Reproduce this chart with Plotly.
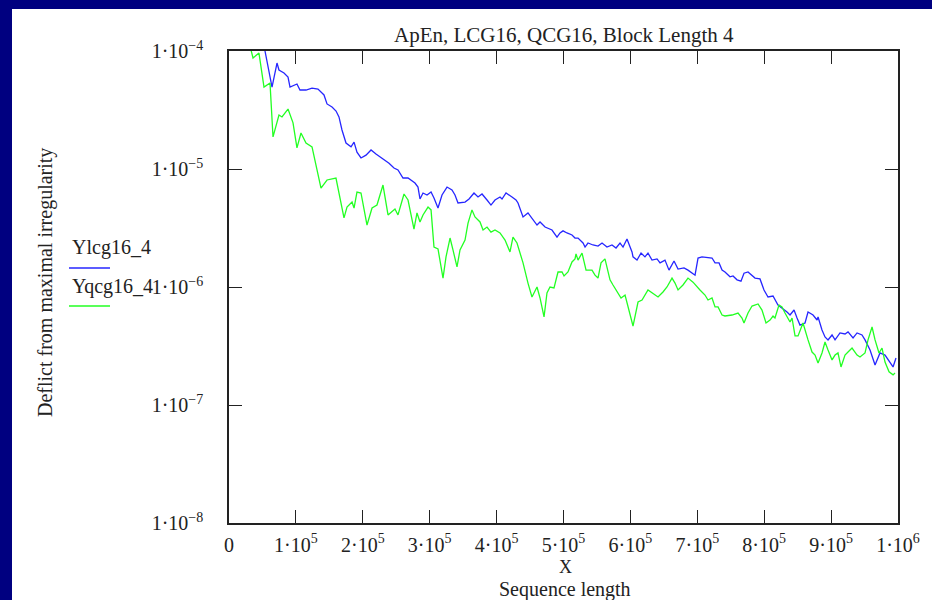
import plotly.graph_objects as go

title_text = "ApEn, LCG16, QCG16, Block Length 4"
series_names = ["Ylcg16_4", "Yqcg16_4"]
x_tick_vals = [0, 1e5, 2e5, 3e5, 4e5, 5e5, 6e5, 7e5, 8e5, 9e5, 1e6]
x_tick_text = ["0", "1·10<sup>5</sup>", "2·10<sup>5</sup>", "3·10<sup>5</sup>", "4·10<sup>5</sup>",
               "5·10<sup>5</sup>", "6·10<sup>5</sup>", "7·10<sup>5</sup>", "8·10<sup>5</sup>",
               "9·10<sup>5</sup>", "1·10<sup>6</sup>"]
y_tick_vals = [1e-8, 1e-7, 1e-6, 1e-5, 1e-4]
y_tick_text = ["1·10<sup>−8</sup>", "1·10<sup>−7</sup>", "1·10<sup>−6</sup>", "1·10<sup>−5</sup>", "1·10<sup>−4</sup>"]

lcg_x = [39000, 53800, 64300, 71750, 74700, 82200, 88200, 91200, 101600, 106100, 115100, 124100,
         133000, 142000, 146500, 154000, 160000, 164400, 168900, 174900, 182400, 186900, 191300,
         197300, 204800, 212300, 219700, 228700, 239200, 246600, 252600, 260100, 267600, 278000,
         282500, 285500, 290000, 296000, 302000, 306400, 312400, 318400, 325900, 333300, 337800,
         342300, 352800, 358800, 366200, 372200, 378200, 385700, 391600, 397600, 405100, 408100,
         414100, 423000, 429000, 432000, 439500, 446900, 452900, 460400, 464900, 472400, 482800,
         490300, 494800, 499300, 505200, 512700, 517200, 521700, 529200, 532200, 536600, 544100,
         551600, 557600, 565000, 572500, 578500, 584500, 589000, 594900, 602400, 603900, 609900,
         615900, 621800, 626300, 632300, 639800, 644300, 651700, 657700, 665200, 671200, 680100,
         686100, 696600, 701100, 707000, 722000, 726500, 732500, 737000, 741400, 748900, 753400,
         759400, 765300, 769800, 775800, 786300, 793700, 799700, 805700, 813200, 820600, 826600,
         834100, 838600, 844600, 849100, 853500, 861000, 865500, 873000, 879000, 880500, 886400,
         890900, 895400, 901400, 905900, 913300, 920800, 925300, 932800, 938800, 946200, 950700,
         958200, 965700, 973100, 980600, 988100, 992600, 997000]
lcg_y = [1.5e-4, 1.0e-4, 4.95e-5, 7.91e-5, 6.90e-5, 6.52e-5, 6.02e-5, 4.95e-5, 5.25e-5, 4.67e-5,
         4.67e-5, 4.85e-5, 4.76e-5, 4.24e-5, 3.56e-5, 3.35e-5, 3.10e-5, 2.76e-5, 2.14e-5, 1.66e-5,
         1.54e-5, 1.69e-5, 1.39e-5, 1.24e-5, 1.31e-5, 1.45e-5, 1.34e-5, 1.24e-5, 1.12e-5, 1.02e-5,
         9.81e-6, 8.39e-6, 8.39e-6, 7.61e-6, 7.03e-6, 5.57e-6, 6.26e-6, 6.02e-6, 6.38e-6, 5.68e-6,
         4.67e-6, 6.02e-6, 7.03e-6, 6.64e-6, 6.02e-6, 5.15e-6, 5.25e-6, 5.57e-6, 6.26e-6, 5.79e-6,
         6.14e-6, 5.46e-6, 4.95e-6, 5.46e-6, 5.79e-6, 5.57e-6, 6.26e-6, 5.79e-6, 5.46e-6, 5.15e-6,
         3.92e-6, 4.24e-6, 3.85e-6, 3.35e-6, 3.56e-6, 3.22e-6, 3.04e-6, 2.65e-6, 2.87e-6, 2.99e-6,
         2.87e-6, 2.76e-6, 2.60e-6, 2.60e-6, 2.36e-6, 2.18e-6, 2.36e-6, 2.27e-6, 2.22e-6, 2.36e-6,
         2.18e-6, 2.27e-6, 2.14e-6, 2.36e-6, 2.18e-6, 2.55e-6, 1.98e-6, 1.80e-6, 1.69e-6, 1.94e-6,
         1.80e-6, 1.94e-6, 1.69e-6, 1.73e-6, 1.60e-6, 1.69e-6, 1.39e-6, 1.66e-6, 1.42e-6, 1.45e-6,
         1.39e-6, 1.26e-6, 1.76e-6, 1.80e-6, 1.76e-6, 1.60e-6, 1.60e-6, 1.39e-6, 1.34e-6, 1.22e-6,
         1.24e-6, 1.15e-6, 1.12e-6, 1.31e-6, 1.34e-6, 1.19e-6, 1.17e-6, 9.44e-7, 8.23e-7, 8.39e-7,
         7.04e-7, 6.64e-7, 6.14e-7, 5.79e-7, 6.38e-7, 5.46e-7, 4.76e-7, 4.95e-7, 6.14e-7, 5.79e-7,
         5.25e-7, 5.57e-7, 4.32e-7, 3.77e-7, 3.56e-7, 3.92e-7, 3.56e-7, 4.08e-7, 4.00e-7, 4.16e-7,
         3.70e-7, 4.08e-7, 3.92e-7, 3.56e-7, 2.92e-7, 2.18e-7, 2.76e-7, 2.65e-7, 2.27e-7, 2.10e-7,
         2.50e-7]

qcg_x = [26900, 32900, 35900, 44800, 52300, 61300, 65800, 74700, 79200, 88200, 95700, 101600,
         107600, 115100, 124100, 137500, 146500, 159900, 171900, 176400, 183900, 186900, 191300,
         197300, 206300, 213800, 221200, 230200, 237700, 248100, 252600, 258600, 261600, 267600,
         272100, 276500, 281000, 285500, 290000, 297500, 302000, 306400, 312400, 319900, 324400,
         330400, 334800, 340800, 345300, 352800, 357300, 363200, 367700, 375200, 379700, 385700,
         391600, 397600, 405100, 412600, 420000, 424500, 430500, 439500, 446900, 452900, 460400,
         464900, 470900, 475300, 479800, 485800, 491800, 497800, 500800, 506700, 512700, 517200,
         518700, 521700, 527700, 533700, 542600, 547100, 551600, 556100, 562000, 569500, 574000,
         580000, 586000, 592000, 599400, 603900, 611400, 617400, 626300, 633800, 641300, 648700,
         654700, 662200, 666700, 671200, 678600, 686100, 693600, 704000, 711500, 716000, 722000,
         726500, 731000, 737000, 741400, 751900, 760900, 766800, 769800, 775800, 781800, 790800,
         796700, 802700, 808700, 813200, 816100, 822100, 826600, 831100, 838600, 841600, 846100,
         850600, 858000, 865500, 871500, 876000, 880500, 886400, 890900, 895400, 901400, 905900,
         910300, 914800, 920800, 925300, 931300, 938800, 943200, 950700, 955200, 961200, 965700,
         971600, 976100, 980600, 986600, 992600, 995500]
qcg_y = [1.15e-4, 1.02e-4, 8.72e-5, 9.61e-5, 4.95e-5, 5.36e-5, 1.87e-5, 2.87e-5, 2.76e-5, 3.22e-5,
         2.46e-5, 1.51e-5, 2.02e-5, 1.66e-5, 1.54e-5, 6.90e-6, 8.07e-6, 8.39e-6, 3.85e-6, 4.76e-6,
         5.25e-6, 4.67e-6, 6.38e-6, 6.26e-6, 3.35e-6, 4.67e-6, 4.95e-6, 7.31e-6, 4.08e-6, 4.58e-6,
         4.08e-6, 5.46e-6, 6.14e-6, 5.46e-6, 4.08e-6, 3.10e-6, 4.24e-6, 3.56e-6, 4.08e-6, 4.76e-6,
         4.50e-6, 2.18e-6, 2.10e-6, 1.19e-6, 1.80e-6, 2.60e-6, 2.06e-6, 1.48e-6, 2.06e-6, 2.50e-6,
         3.48e-6, 4.50e-6, 3.92e-6, 3.56e-6, 3.04e-6, 3.22e-6, 2.92e-6, 3.04e-6, 2.87e-6, 2.50e-6,
         1.98e-6, 2.65e-6, 2.36e-6, 1.60e-6, 1.08e-6, 8.23e-7, 1.00e-6, 8.07e-7, 5.57e-7, 8.89e-7,
         1.00e-6, 9.81e-7, 1.34e-6, 1.34e-6, 1.24e-6, 1.34e-6, 1.63e-6, 1.73e-6, 1.91e-6, 1.69e-6,
         1.94e-6, 1.39e-6, 1.39e-6, 1.26e-6, 1.19e-6, 1.60e-6, 1.73e-6, 1.15e-6, 1.04e-6, 9.08e-7,
         8.07e-7, 8.55e-7, 6.02e-7, 4.67e-7, 7.46e-7, 7.76e-7, 9.44e-7, 8.89e-7, 8.23e-7, 9.08e-7,
         1.00e-6, 1.19e-6, 1.08e-6, 9.44e-7, 1.04e-6, 1.19e-6, 1.10e-6, 9.44e-7, 8.55e-7, 7.76e-7,
         8.07e-7, 6.78e-7, 6.78e-7, 5.79e-7, 5.68e-7, 5.79e-7, 6.02e-7, 5.46e-7, 4.95e-7, 6.02e-7,
         6.90e-7, 7.18e-7, 6.38e-7, 4.95e-7, 5.25e-7, 5.68e-7, 5.46e-7, 7.04e-7, 6.78e-7, 6.02e-7,
         5.05e-7, 5.46e-7, 3.85e-7, 3.85e-7, 4.95e-7, 3.56e-7, 2.81e-7, 2.65e-7, 2.27e-7, 2.76e-7,
         3.42e-7, 2.92e-7, 2.41e-7, 2.65e-7, 2.76e-7, 2.10e-7, 2.65e-7, 2.81e-7, 3.04e-7, 2.65e-7,
         2.55e-7, 2.76e-7, 3.56e-7, 4.58e-7, 3.56e-7, 2.76e-7, 3.04e-7, 2.31e-7, 1.91e-7, 1.80e-7,
         1.87e-7]

BLUE = "#2626ff"
GREEN = "#22ff22"
NAVY = "#000080"
FONT = "Liberation Serif, Times New Roman, serif"
FS = 20

W, H = 932, 600
L, R, T, B = 229, 34, 51, 77
PW, PH = W - L - R, H - T - B


def px(x):
    return (x - L) / PW


def py(y):
    return (H - B - y) / PH


fig = go.Figure()
fig.add_trace(go.Scatter(x=lcg_x, y=lcg_y, mode="lines", name=series_names[0],
                         line=dict(color=BLUE, width=1.3), showlegend=False))
fig.add_trace(go.Scatter(x=qcg_x, y=qcg_y, mode="lines", name=series_names[1],
                         line=dict(color=GREEN, width=1.3), showlegend=False))

axis_common = dict(showgrid=False, zeroline=False, showline=True, linecolor="#222",
                   linewidth=1.5, ticks="inside", ticklen=13, tickwidth=1.3, tickcolor="#222",
                   mirror="ticks", tickfont=dict(family=FONT, size=FS, color="#222"))
fig.update_xaxes(range=[0, 1e6], tickvals=x_tick_vals, ticktext=x_tick_text,
                 ticklabelstandoff=3, **axis_common)
fig.update_yaxes(type="log", range=[-8, -4], tickvals=y_tick_vals, ticktext=y_tick_text,
                 ticklabelstandoff=20, **axis_common)

shapes = [
    dict(type="rect", xref="paper", yref="paper", x0=px(-5), x1=px(12), y0=py(605), y1=py(-5),
         fillcolor=NAVY, line=dict(width=0), layer="below"),
    dict(type="rect", xref="paper", yref="paper", x0=px(-5), x1=px(940), y0=py(9), y1=py(-5),
         fillcolor=NAVY, line=dict(width=0), layer="below"),
    dict(type="line", xref="paper", yref="paper", x0=px(69), x1=px(110), y0=py(268), y1=py(268),
         line=dict(color=BLUE, width=1.5)),
    dict(type="line", xref="paper", yref="paper", x0=px(69), x1=px(110), y0=py(306), y1=py(306),
         line=dict(color=GREEN, width=1.5)),
]

ann_font = dict(family=FONT, size=FS, color="#222")
annotations = [
    dict(text=title_text, xref="paper", yref="paper", x=px(564), y=py(35), showarrow=False,
         xanchor="center", yanchor="middle", font=dict(family=FONT, size=21, color="#222")),
    dict(text=series_names[0], xref="paper", yref="paper", x=px(70), y=py(247), showarrow=False,
         xanchor="left", yanchor="middle", font=ann_font),
    dict(text=series_names[1], xref="paper", yref="paper", x=px(70), y=py(286), showarrow=False,
         xanchor="left", yanchor="middle", font=ann_font),
    dict(text="Deflict from maximal irregularity", xref="paper", yref="paper", x=px(45), y=py(283),
         showarrow=False, textangle=-90, xanchor="center", yanchor="middle", font=ann_font),
    dict(text="X", xref="paper", yref="paper", x=px(565), y=py(567), showarrow=False,
         xanchor="center", yanchor="middle", borderpad=0,
         font=dict(family=FONT, size=18, color="#222")),
    dict(text="Sequence length", xref="paper", yref="paper", x=px(565), y=py(589),
         showarrow=False, xanchor="center", yanchor="middle", borderpad=0, font=ann_font),
]

fig.update_layout(width=W, height=H, margin=dict(l=L, r=R, t=T, b=B),
                  paper_bgcolor="white", plot_bgcolor="white",
                  shapes=shapes, annotations=annotations, showlegend=False)

fig.write_html("out.html", config={"displayModeBar": False},
               post_script="document.body.style.margin='0';document.body.style.overflow='hidden';")
